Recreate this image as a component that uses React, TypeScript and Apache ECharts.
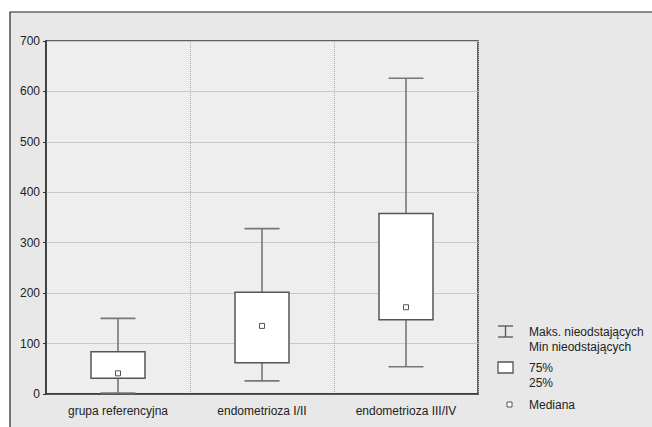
import React, { useEffect, useRef } from "react";
import * as echarts from "echarts";

const categories = ["grupa referencyjna", "endometrioza I/II", "endometrioza III/IV"];
const mins = [2, 26, 54];
const q1s = [31, 62, 147];
const medians = [41, 135, 172];
const q3s = [84, 202, 358];
const maxs = [150, 328, 626];
const yTicks = [0, 100, 200, 300, 400, 500, 600, 700];
const legendLabels = ["Maks. nieodstających", "Min nieodstających", "75%", "25%", "Mediana"];

const FONT = '"Liberation Sans Narrow", "Arial Narrow", "Liberation Sans", Arial, sans-serif';

export default function App() {
  const ref = useRef<HTMLDivElement>(null);
  useEffect(() => {
    document.body.style.margin = "0";
    const chart = echarts.init(ref.current!, null, { renderer: "svg" });
    const data = categories.map((_, i) => [i, mins[i], q1s[i], medians[i], q3s[i], maxs[i]]);
    const whisker = { stroke: "#777", lineWidth: 1.6 };
    const boxStroke = "#555";
    chart.setOption({
      animation: false,
      backgroundColor: "#ffffff",
      textStyle: { fontFamily: FONT },
      graphic: [
        {
          type: "rect",
          z: -10,
          shape: { x: 10, y: 12, width: 700, height: 500 },
          style: { fill: "#e8e8e8", stroke: "#222", lineWidth: 1.2 },
          silent: true,
        },
        // legend: whisker icon
        { type: "line", shape: { x1: 498, y1: 326, x2: 513, y2: 326 }, style: { stroke: "#555", lineWidth: 1.3 } },
        { type: "line", shape: { x1: 505.5, y1: 326, x2: 505.5, y2: 337 }, style: { stroke: "#555", lineWidth: 1.3 } },
        { type: "line", shape: { x1: 498, y1: 337, x2: 513, y2: 337 }, style: { stroke: "#555", lineWidth: 1.3 } },
        // legend: box icon
        { type: "rect", shape: { x: 498, y: 362, width: 15, height: 11 }, style: { fill: "#fff", stroke: "#555", lineWidth: 1.3 } },
        // legend: median icon
        { type: "rect", shape: { x: 507, y: 402, width: 5, height: 5 }, style: { fill: "#fff", stroke: "#555", lineWidth: 1 } },
        ...legendLabels.map((t, i) => ({
          type: "text",
          x: 529,
          y: [331.5, 346.5, 368, 383, 405][i],
          style: { text: t, fill: "#222", font: `12px ${FONT}`, textVerticalAlign: "middle" },
        })),
      ],
      grid: {
        left: 46,
        top: 41,
        right: 174,
        bottom: 33,
        show: true,
        backgroundColor: "#eeeeee",
        borderColor: "#333",
        borderWidth: 1.5,
      },
      xAxis: {
        type: "category",
        data: categories,
        boundaryGap: true,
        axisLine: { show: true, lineStyle: { color: "#333", width: 1.5 } },
        axisTick: { show: false },
        axisLabel: { color: "#222", fontSize: 12, margin: 11, fontFamily: FONT },
        splitLine: { show: true, lineStyle: { color: "#aaa", type: "dotted", width: 1 } },
      },
      yAxis: {
        type: "value",
        min: 0,
        max: 700,
        interval: 100,
        axisLine: { show: true, lineStyle: { color: "#333", width: 1.5 } },
        axisTick: { show: true, length: 3, lineStyle: { color: "#333" } },
        axisLabel: {
          color: "#222",
          fontSize: 12,
          margin: 6,
          fontFamily: FONT,
          formatter: (v: number) => (yTicks.includes(v) ? String(v) : ""),
        },
        splitLine: { show: true, lineStyle: { color: "#c8c8c8", width: 1 } },
      },
      series: [
        {
          type: "custom",
          data,
          encode: { x: 0, y: [1, 2, 3, 4, 5] },
          renderItem: (params: any, api: any) => {
            const x = api.value(0);
            const pMin = api.coord([x, api.value(1)]);
            const pQ1 = api.coord([x, api.value(2)]);
            const pMed = api.coord([x, api.value(3)]);
            const pQ3 = api.coord([x, api.value(4)]);
            const pMax = api.coord([x, api.value(5)]);
            const band = api.size([1, 0])[0];
            const bw = band * 0.375;
            const cw = band * 0.243;
            const cx = pQ1[0];
            return {
              type: "group",
              children: [
                { type: "line", shape: { x1: cx, y1: pMax[1], x2: cx, y2: pQ3[1] }, style: whisker },
                { type: "line", shape: { x1: cx, y1: pQ1[1], x2: cx, y2: pMin[1] }, style: whisker },
                { type: "line", shape: { x1: cx - cw / 2, y1: pMax[1], x2: cx + cw / 2, y2: pMax[1] }, style: whisker },
                { type: "line", shape: { x1: cx - cw / 2, y1: pMin[1], x2: cx + cw / 2, y2: pMin[1] }, style: whisker },
                {
                  type: "rect",
                  shape: { x: cx - bw / 2, y: pQ3[1], width: bw, height: pQ1[1] - pQ3[1] },
                  style: { fill: "#ffffff", stroke: boxStroke, lineWidth: 1.5 },
                },
                {
                  type: "rect",
                  shape: { x: cx - 2.5, y: pMed[1] - 2.5, width: 5, height: 5 },
                  style: { fill: "#ffffff", stroke: boxStroke, lineWidth: 1 },
                },
              ],
            };
          },
        },
      ],
    });
    return () => chart.dispose();
  }, []);
  return <div ref={ref} style={{ width: 652, height: 427 }} />;
}
